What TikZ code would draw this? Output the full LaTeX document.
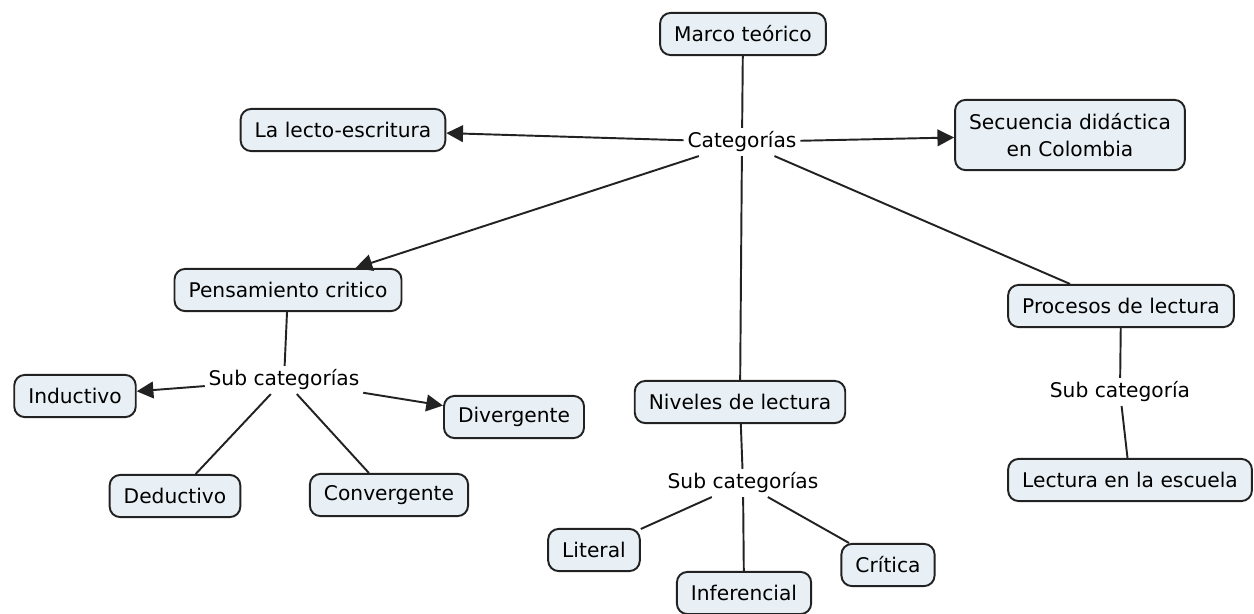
\documentclass[tikz,border=0pt]{standalone}
\usepackage{fontspec}
\setmainfont{DejaVu Sans}
\usetikzlibrary{arrows.meta}
\definecolor{boxFill}{RGB}{232,240,245}
\definecolor{inkLine}{RGB}{34,34,34}
\begin{document}
\begin{tikzpicture}
[x=0.02cm,y=-0.02cm,%
  lineDecorate/.style={-,line width=1.1pt,draw=inkLine},%
  arrowDecorate/.style={-{Triangle[length=9.5pt,width=9.5pt]},line width=1.1pt,draw=inkLine},%
  conceptDecorate/.style={shape=rectangle,rounded corners=6pt,draw=inkLine,line width=1.1pt,
    fill=boxFill,inner xsep=8pt,inner ysep=2pt,minimum height=24pt,align=center},%
  phraseDecorate/.style={shape=rectangle,inner sep=2pt},%
  every node/.style={font=\fontsize{11.5}{15.3}\selectfont,text=black}]
\useasboundingbox (0,0) rectangle (1254,613);
%% concepts
\foreach \nodename/\x/\y/\nodetext in {
  marco/743/34/{Marco teórico}, lecto/343/130/{La lecto-escritura},
  pensamiento/288/290/{Pensamiento critico}, procesos/1121/306/{Procesos de lectura},
  niveles/740/402/{Niveles de lectura}, inductivo/75/396/{Inductivo},
  divergente/514/417/{Divergente}, deductivo/175/496/{Deductivo},
  convergente/389/495/{Convergente}, literal/594/550/{Literal},
  inferencial/744/593/{Inferencial}, critica/888/565/{Crítica},
  lectura/1130/480/{Lectura en la escuela}}
{
  \node (\nodename) at (\x,\y) [conceptDecorate] {\nodetext};
}
\node (secuencia) at (1070,135) [conceptDecorate,minimum height=40pt] {Secuencia didáctica\\en Colombia};
%% linking phrases
\foreach \nodename/\x/\y/\nodetext in {
  categorias/742/142/{Categorías}, subA/284/380/{Sub categorías},
  subB/743/483/{Sub categorías}, subC/1120/392/{Sub categoría}}
{
  \node (\nodename) at (\x,\y) [phraseDecorate] {\nodetext};
}
%% plain lines
\path
\foreach \startnode/\endnode in {marco/categorias, categorias/niveles,
  categorias/procesos, pensamiento/subA, subA/deductivo, subA/convergente,
  niveles/subB, subB/literal, subB/inferencial, subB/critica,
  procesos/subC, subC/lectura}
{
  (\startnode) edge[lineDecorate] (\endnode)
};
%% arrows
\path
\foreach \startnode/\endnode in {categorias/lecto, categorias/secuencia,
  categorias/pensamiento, subA/inductivo, subA/divergente}
{
  (\startnode) edge[arrowDecorate] (\endnode)
};
\end{tikzpicture}
\end{document}
